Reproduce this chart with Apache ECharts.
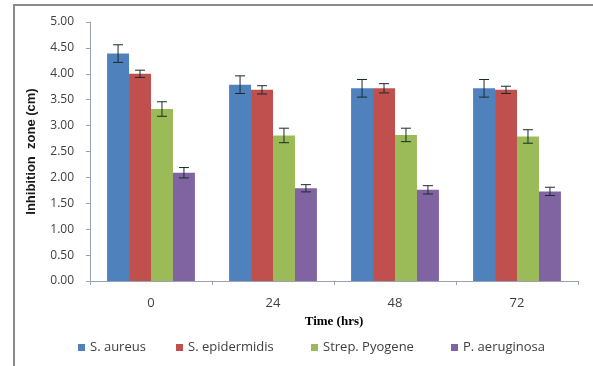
<!DOCTYPE html>
<html><head><meta charset="utf-8">
<script src="https://cdn.jsdelivr.net/npm/echarts@6/dist/echarts.min.js"></script>
<style>html,body{margin:0;padding:0;background:#fff;}#c{width:593px;height:366px;}</style>
</head><body><div id="c"></div>
<script>
var categories = ['0', '24', '48', '72'];
var seriesNames = ['S. aureus', 'S. epidermidis', 'Strep. Pyogene', 'P. aeruginosa'];
var aureus = [4.39, 3.79, 3.72, 3.72];
var epidermidis = [4.00, 3.69, 3.72, 3.69];
var pyogene = [3.32, 2.81, 2.82, 2.79];
var aeruginosa = [2.09, 1.79, 1.76, 1.73];
var aureusErr = [0.17, 0.17, 0.17, 0.17];
var epidermidisErr = [0.07, 0.08, 0.09, 0.07];
var pyogeneErr = [0.14, 0.14, 0.13, 0.13];
var aeruginosaErr = [0.10, 0.07, 0.08, 0.08];
var yTicks = ['0.00','0.50','1.00','1.50','2.00','2.50','3.00','3.50','4.00','4.50','5.00'];

var values = [aureus, epidermidis, pyogene, aeruginosa];
var errs = [aureusErr, epidermidisErr, pyogeneErr, aeruginosaErr];
var colors = ['#4F81BD', '#C0504D', '#9BBB59', '#8064A2'];
var catGap = 0.28;
var frac = (1 - catGap) / 4;

var series = [];
values.forEach(function (v, i) {
  series.push({
    name: seriesNames[i], type: 'bar', data: v,
    barGap: '0%', barCategoryGap: (catGap * 100) + '%',
    itemStyle: { color: colors[i] }, silent: true
  });
});
values.forEach(function (v, i) {
  var d = v.map(function (val, k) { return [k, val - errs[i][k], val + errs[i][k]]; });
  series.push({
    type: 'custom', data: d, z: 10, silent: true,
    renderItem: function (params, api) {
      var k = api.value(0);
      var band = api.size([1, 0])[0];
      var off = (i - 1.5) * frac * band;
      var lo = api.coord([k, api.value(1)]);
      var hi = api.coord([k, api.value(2)]);
      var x = lo[0] + off;
      var cap = 5;
      var st = { stroke: '#1a2a2a', lineWidth: 1 };
      return { type: 'group', children: [
        { type: 'line', shape: { x1: x, y1: lo[1], x2: x, y2: hi[1] }, style: st },
        { type: 'line', shape: { x1: x - cap, y1: lo[1], x2: x + cap, y2: lo[1] }, style: st },
        { type: 'line', shape: { x1: x - cap, y1: hi[1], x2: x + cap, y2: hi[1] }, style: st }
      ]};
    }
  });
});

var legendX = [73, 171, 306, 446];
var legends = seriesNames.map(function (n, i) {
  return {
    data: [n], left: legendX[i], top: 336, itemWidth: 7, itemHeight: 7,
    icon: 'rect', selectedMode: false, itemGap: 4,
    textStyle: { fontFamily: 'Open Sans', fontSize: 13, color: '#404040' }
  };
});

var chart = echarts.init(document.getElementById('c'), null, { renderer: 'canvas' });
chart.setOption({
  animation: false,
  backgroundColor: '#fff',
  graphic: [{ type: 'rect', shape: { x: 14, y: 5, width: 620, height: 420 },
    style: { fill: 'none', stroke: '#8a8a8a', lineWidth: 2 }, silent: true }],
  legend: legends,
  grid: { left: 90, right: 15, top: 22, bottom: 85 },
  xAxis: {
    type: 'category', data: categories,
    name: 'Time (hrs)', nameLocation: 'middle', nameGap: 28,
    nameTextStyle: { fontFamily: 'Liberation Serif', fontWeight: 'bold', fontSize: 13, color: '#000' },
    axisLine: { lineStyle: { color: '#9aa0b8', width: 1 } },
    axisTick: { show: true, length: 4, lineStyle: { color: '#9aa0b8' } },
    axisLabel: { fontFamily: 'Open Sans', fontSize: 13, color: '#404040', margin: 16 }
  },
  yAxis: {
    type: 'value', min: 0, max: 5, interval: 0.5,
    name: 'Inhibition  zone (cm)', nameLocation: 'middle', nameGap: 52, nameRotate: 90,
    nameTextStyle: { fontFamily: 'Liberation Sans', fontWeight: 'bold', fontSize: 13, color: '#1a1a1a' },
    axisLine: { show: true, lineStyle: { color: '#9aa0b8', width: 1 } },
    axisTick: { show: true, length: 4, lineStyle: { color: '#9aa0b8' } },
    splitLine: { show: false },
    axisLabel: { fontFamily: 'Open Sans', fontSize: 12, color: '#404040', margin: 16,
      formatter: function (v) { return yTicks[Math.round(v / 0.5)]; } }
  },
  series: series
});
</script>
</body></html>
